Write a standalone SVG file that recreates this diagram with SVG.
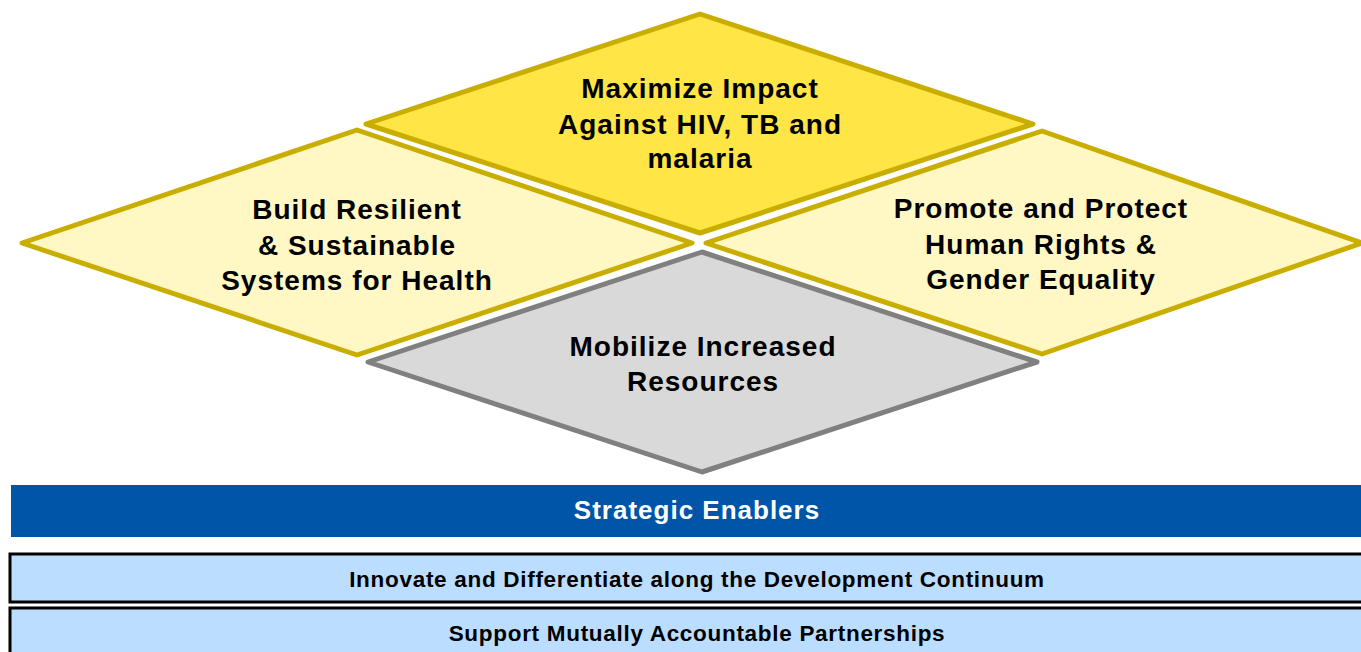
<svg xmlns="http://www.w3.org/2000/svg" width="1361" height="652" viewBox="0 0 1361 652">
<style>
.d{stroke-width:5;stroke-linejoin:round}
.y{fill:#FFE545;stroke:#C9AE00}
.l{fill:#FFF7C4;stroke:#C9AE00}
.g{fill:#D9D9D9;stroke:#808080}
.t{font-family:"Liberation Sans",Arial,sans-serif;font-weight:bold;font-size:28px;letter-spacing:1px;fill:#000;text-anchor:middle}
.e{font-family:"Liberation Sans",Arial,sans-serif;font-weight:bold;font-size:26px;letter-spacing:1px;fill:#fff;text-anchor:middle}
.b{font-family:"Liberation Sans",Arial,sans-serif;font-weight:bold;font-size:22.5px;letter-spacing:0.7px;fill:#000;text-anchor:middle}
.box{fill:#BBDDFF;stroke:#000;stroke-width:3}
</style>
<rect width="1361" height="652" fill="#fff"/>
<g id="build">
<polygon class="d l" points="357,130 692,243 357,355 22,243"/>
<text class="t" x="357" y="219">Build Resilient</text>
<text class="t" x="357" y="255">&amp; Sustainable</text>
<text class="t" x="357" y="290">Systems for Health</text>
</g>
<g id="promote">
<polygon class="d l" points="1042,131 1362,243 1042,354 706,243"/>
<text class="t" x="1041" y="218">Promote and Protect</text>
<text class="t" x="1041" y="254">Human Rights &amp;</text>
<text class="t" x="1041" y="289">Gender Equality</text>
</g>
<g id="maximize">
<polygon class="d y" points="700,14 1033,124 700,233 366,124"/>
<text class="t" x="700" y="98">Maximize Impact</text>
<text class="t" x="700" y="134">Against HIV, TB and</text>
<text class="t" x="700" y="168">malaria</text>
</g>
<g id="mobilize">
<polygon class="d g" points="702,252 1037,362 702,472 368,362"/>
<text class="t" x="703" y="356">Mobilize Increased</text>
<text class="t" x="703" y="391">Resources</text>
</g>
<g id="enablers">
<rect x="11" y="485" width="1352" height="52" fill="#0055A8"/>
<text class="e" x="697" y="519">Strategic Enablers</text>
</g>
<g id="innovate">
<rect class="box" x="10" y="554" width="1355" height="48"/>
<text class="b" x="697" y="587">Innovate and Differentiate along the Development Continuum</text>
</g>
<g id="support">
<rect class="box" x="10" y="608" width="1355" height="48"/>
<text class="b" x="697" y="641">Support Mutually Accountable Partnerships</text>
</g>
<g id="connectors"></g>
</svg>
